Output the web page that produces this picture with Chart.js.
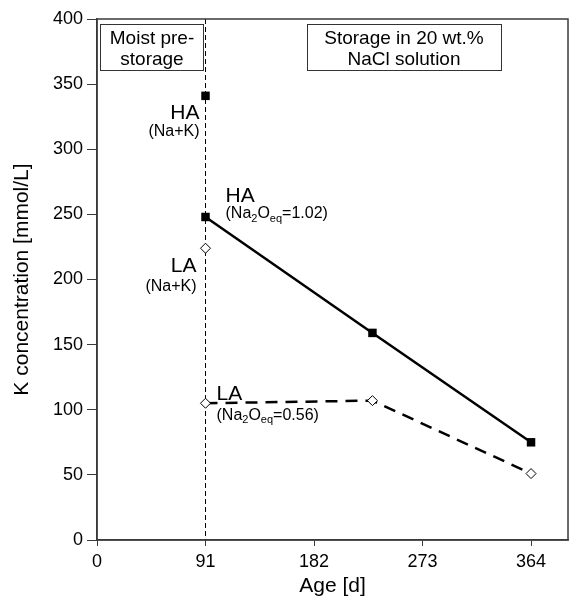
<!DOCTYPE html>
<html>
<head>
<meta charset="utf-8">
<script src="https://cdn.jsdelivr.net/npm/chart.js@4/dist/chart.umd.min.js"></script>
<style>
  html, body { margin: 0; padding: 0; background: #fff; }
  #wrap { width: 574px; height: 599px; }
</style>
</head>
<body>
<div id="wrap"><canvas id="kChart" width="574" height="599"></canvas></div>
<script>
// age in days, K concentration in mmol/L
const haAges = [91, 231, 364];
const haK = [248, 159, 75];
const laAges = [91, 231, 364];
const laK = [105, 107, 51];
// Na+K equivalents at end of moist pre-storage
const haNaK = 341;
const laNaK = 224;

const xTicks = [0, 91, 182, 273, 364];
const yTicks = [0, 50, 100, 150, 200, 250, 300, 350, 400];
const preStorageEnd = 91;

const FONT = '"Liberation Sans", Arial, sans-serif';

// draws text with subscript pieces: parts = [[text, isSub], ...]
function drawRich(ctx, parts, x, y, size, align) {
  const subSize = Math.round(size * 0.68);
  let total = 0;
  parts.forEach(p => {
    ctx.font = (p[1] ? subSize : size) + 'px ' + FONT;
    total += ctx.measureText(p[0]).width;
  });
  let cx = align === 'right' ? x - total : x;
  ctx.textAlign = 'left';
  ctx.textBaseline = 'middle';
  parts.forEach(p => {
    ctx.font = (p[1] ? subSize : size) + 'px ' + FONT;
    ctx.fillText(p[0], cx, p[1] ? y + size * 0.3 : y);
    cx += ctx.measureText(p[0]).width;
  });
}

const decorations = {
  id: 'decorations',
  beforeDatasetsDraw(chart) {
    const { ctx, chartArea: a, scales: { x } } = chart;
    const xs = x.getPixelForValue(preStorageEnd);
    ctx.save();
    ctx.strokeStyle = '#000';
    ctx.lineWidth = 1;
    ctx.setLineDash([5, 3]);
    ctx.beginPath();
    ctx.moveTo(xs, a.top);
    ctx.lineTo(xs, a.bottom);
    ctx.stroke();
    ctx.restore();
  },
  afterDraw(chart) {
    const { ctx, chartArea: a, scales: { x, y } } = chart;
    ctx.save();
    // frame
    ctx.strokeStyle = '#3a3a3a';
    ctx.lineWidth = 1.5;
    ctx.strokeRect(a.left, a.top, a.right - a.left, a.bottom - a.top);

    // phase boxes
    ctx.fillStyle = '#000';
    ctx.strokeStyle = '#333';
    ctx.lineWidth = 1;
    ctx.strokeRect(100.5, 24.5, 103, 46);
    ctx.strokeRect(307.5, 24.5, 194, 46);
    ctx.font = '19px ' + FONT;
    ctx.textAlign = 'center';
    ctx.textBaseline = 'middle';
    ctx.fillText('Moist pre-', 152, 39);
    ctx.fillText('storage', 152, 60);
    ctx.fillText('Storage in 20 wt.%', 404, 39);
    ctx.fillText('NaCl solution', 404, 60);

    // point labels
    const px = x.getPixelForValue(preStorageEnd);
    const hiY = y.getPixelForValue(haNaK);
    drawRich(ctx, [['HA', false]], px - 6, hiY + 17, 21, 'right');
    drawRich(ctx, [['(Na+K)', false]], px - 6, hiY + 36, 16, 'right');

    const laHiY = y.getPixelForValue(laNaK);
    drawRich(ctx, [['LA', false]], px - 9, laHiY + 18, 21, 'right');
    drawRich(ctx, [['(Na+K)', false]], px - 9, laHiY + 38, 16, 'right');

    const haY = y.getPixelForValue(haK[0]);
    drawRich(ctx, [['HA', false]], px + 20, haY - 21, 21, 'left');
    drawRich(ctx, [['(Na', false], ['2', true], ['O', false], ['eq', true], ['=1.02)', false]], px + 20, haY - 3, 16, 'left');

    const laY = y.getPixelForValue(laK[0]);
    drawRich(ctx, [['LA', false]], px + 11, laY - 9, 21, 'left');
    drawRich(ctx, [['(Na', false], ['2', true], ['O', false], ['eq', true], ['=0.56)', false]], px + 11, laY + 12, 16, 'left');
    ctx.restore();
  }
};

new Chart(document.getElementById('kChart').getContext('2d'), {
  type: 'scatter',
  data: {
    datasets: [
      {
        label: 'HA',
        data: haAges.map((a, i) => ({ x: a, y: haK[i] })),
        showLine: true,
        borderColor: '#000',
        backgroundColor: '#000',
        borderWidth: 2.5,
        pointStyle: 'rect',
        pointRadius: 6,
        pointBorderWidth: 0
      },
      {
        label: 'LA',
        data: laAges.map((a, i) => ({ x: a, y: laK[i] })),
        showLine: true,
        borderColor: '#000',
        borderWidth: 2.5,
        borderDash: [12, 8],
        pointStyle: 'rectRot',
        pointRadius: 5,
        pointBackgroundColor: '#fff',
        pointBorderColor: '#000',
        pointBorderWidth: 1
      },
      {
        label: 'HA (Na+K)',
        data: [{ x: preStorageEnd, y: haNaK }],
        pointStyle: 'rect',
        pointRadius: 6,
        pointBackgroundColor: '#000',
        pointBorderWidth: 0
      },
      {
        label: 'LA (Na+K)',
        data: [{ x: preStorageEnd, y: laNaK }],
        pointStyle: 'rectRot',
        pointRadius: 5,
        pointBackgroundColor: '#fff',
        pointBorderColor: '#000',
        pointBorderWidth: 1
      }
    ]
  },
  options: {
    responsive: false,
    animation: false,
    layout: { padding: { top: 19, right: 5, left: 0, bottom: 0 } },
    plugins: {
      legend: { display: false },
      tooltip: { enabled: false }
    },
    scales: {
      x: {
        type: 'linear',
        min: 0,
        max: 395,
        afterBuildTicks: s => { s.ticks = xTicks.map(v => ({ value: v })); },
        afterFit: s => { s.height = 59; },
        border: { color: '#3a3a3a', width: 1.5 },
        grid: { drawOnChartArea: false, tickLength: 6, color: '#3a3a3a' },
        ticks: { color: '#000', font: { family: FONT, size: 18 }, padding: 5, maxRotation: 0 },
        title: { display: true, text: 'Age [d]', color: '#000', font: { family: FONT, size: 21 }, padding: { top: 0, bottom: 0 } }
      },
      y: {
        min: 0,
        max: 400,
        afterBuildTicks: s => { s.ticks = yTicks.map(v => ({ value: v })); },
        afterFit: s => { s.width = 97; },
        border: { color: '#3a3a3a', width: 1.5 },
        grid: { drawOnChartArea: false, tickLength: 10, color: '#3a3a3a' },
        ticks: { color: '#000', font: { family: FONT, size: 18 }, padding: 4 },
        title: { display: true, text: 'K concentration [mmol/L]', color: '#000', font: { family: FONT, size: 21 }, padding: { top: 10, bottom: 0 } }
      }
    }
  },
  plugins: [decorations]
});
</script>
</body>
</html>
